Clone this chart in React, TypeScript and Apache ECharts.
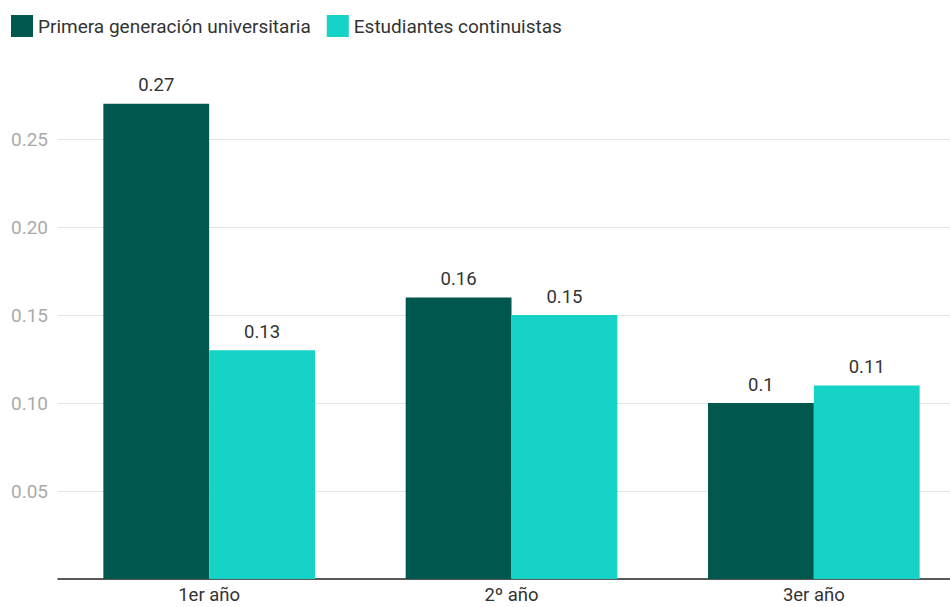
import React, { useEffect, useRef } from "react";
import * as echarts from "echarts";

const categories = ["1er año", "2º año", "3er año"];
const seriesNames = ["Primera generación universitaria", "Estudiantes continuistas"];
const primeraGeneracion = [0.27, 0.16, 0.1];
const continuistas = [0.13, 0.15, 0.11];
const colors = ["#00574d", "#16d3c7"];

export default function App() {
  const ref = useRef<HTMLDivElement>(null);

  useEffect(() => {
    if (!ref.current) return;
    const chart = echarts.init(ref.current, null, { renderer: "svg" });
    const font = "Roboto, 'Noto Sans', sans-serif";
    const barLabel = {
      show: true,
      position: "top" as const,
      distance: 9,
      color: "#333333",
      fontSize: 18.5,
      fontFamily: font,
    };
    chart.setOption({
      animation: false,
      color: colors,
      textStyle: { fontFamily: font },
      legend: {
        left: 6,
        top: 10,
        itemWidth: 22,
        itemHeight: 22,
        itemGap: 16,
        icon: "rect",
        textStyle: { fontSize: 19, color: "#333333", fontFamily: font },
        data: seriesNames,
      },
      grid: { left: 58, right: 0, top: 51, bottom: 28, containLabel: false },
      xAxis: {
        type: "category",
        data: categories,
        axisLine: { show: true, lineStyle: { color: "#222222", width: 1.5 } },
        axisTick: { show: false },
        axisLabel: {
          color: "#333333",
          fontSize: 18.5,
          margin: 6,
          lineHeight: 19,
          fontFamily: font,
        },
      },
      yAxis: {
        type: "value",
        min: 0,
        max: 0.3,
        interval: 0.05,
        axisLine: { show: false },
        axisTick: { show: false },
        splitLine: {
          show: true,
          showMaxLine: false,
          showMinLine: false,
          lineStyle: { color: "#e5e5e5", width: 1 },
        },
        axisLabel: {
          showMinLabel: false,
          showMaxLabel: false,
          color: "#aaaaaa",
          fontSize: 19,
          margin: 10,
          fontFamily: font,
          formatter: (v: number) => v.toFixed(2),
        },
      },
      series: [
        {
          name: seriesNames[0],
          type: "bar",
          data: primeraGeneracion,
          barWidth: "35%",
          barGap: "0%",
          label: barLabel,
        },
        {
          name: seriesNames[1],
          type: "bar",
          data: continuistas,
          barWidth: "35%",
          barGap: "0%",
          label: barLabel,
        },
      ],
    });
    return () => chart.dispose();
  }, []);

  // The plot runs slightly past the right edge of the 950px frame.
  return (
    <div
      style={{
        position: "fixed",
        left: 0,
        top: 0,
        width: 950,
        height: 607,
        overflow: "hidden",
        background: "#ffffff",
      }}
    >
      <div ref={ref} style={{ width: 965, height: 607 }} />
    </div>
  );
}
